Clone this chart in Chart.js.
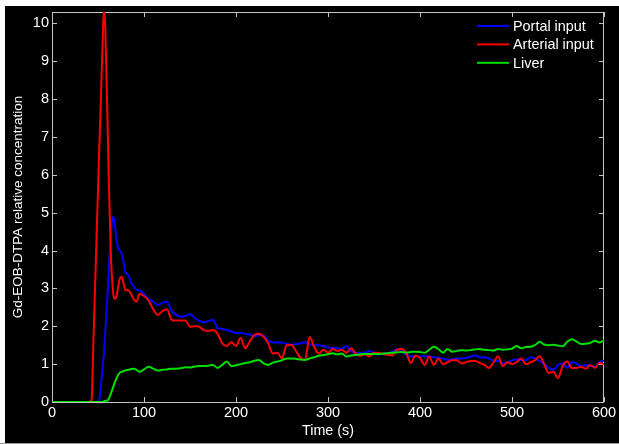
<!DOCTYPE html>
<html><head><meta charset="utf-8">
<script src="https://cdn.jsdelivr.net/npm/chart.js@4"></script>
<style>
html,body{margin:0;padding:0;background:#fff;width:619px;height:444px;overflow:hidden}
#wrap{position:absolute;left:5px;top:6px;width:614px;height:437px;background:#000}
#bline{position:absolute;left:0;top:443px;width:619px;height:1px;background:#999}
canvas{display:block}
</style></head>
<body>
<div id="wrap"><canvas id="c" width="614" height="437"></canvas></div>
<div id="bline"></div>
<script>
// Time (s)
const times = [0,10,20,30,40,43,45,47,49,51,53,55,56.5,58,60,62,64,66,68,70,72,74,76,78,80,83,86,89,92,95,
 100,105,110,115,120,125,130,135,140,145,
 150,155,160,165,170,175,180,185,190,195,
 200,205,210,215,220,225,230,235,240,245,
 250,255,260,265,270,275,280,285,290,295,
 300,305,310,315,320,325,330,335,340,345,
 350,355,360,365,370,375,380,385,390,395,
 400,405,410,415,420,425,430,435,440,445,
 450,455,460,465,470,475,480,485,490,495,
 500,505,510,515,520,525,530,535,540,545,
 550,555,560,565,570,575,580,585,590,595,
 600];

const portalInput = [0,0,0,0,0,0,0,0,0,0,0.4,0.9,1.3,1.9,2.7,3.6,4.4,4.9,4.75,4.3,4.05,4.0,3.9,3.65,3.42,3.35,3.15,3.05,2.96,2.95,
 2.85,2.72,2.65,2.56,2.62,2.65,2.40,2.30,2.25,2.27,
 2.32,2.22,2.14,2.10,2.14,2.17,1.95,1.93,1.90,1.87,
 1.82,1.82,1.80,1.78,1.73,1.77,1.75,1.62,1.58,1.57,
 1.57,1.53,1.51,1.53,1.55,1.58,1.52,1.50,1.50,1.48,
 1.44,1.43,1.42,1.40,1.48,1.35,1.29,1.30,1.30,1.35,
 1.30,1.25,1.28,1.29,1.33,1.39,1.34,1.25,1.20,1.22,
 1.20,1.21,1.20,1.18,1.17,1.15,1.11,1.13,1.15,1.15,
 1.16,1.20,1.23,1.18,1.18,1.15,1.09,1.08,1.02,1.05,
 1.10,1.13,1.10,1.10,1.18,1.15,1.08,1.00,0.90,0.85,
 0.98,1.02,0.90,1.05,1.02,0.95,0.98,0.96,0.93,1.05,
 1.10];

const arterialInput = [0,0,0,0,0,0.05,1.6,3.2,4.8,6.4,7.9,9.5,10.4,9.8,7.8,5.6,3.9,3.0,2.72,2.78,3.05,3.28,3.3,3.1,2.95,2.95,2.85,2.7,2.65,2.85,
 2.80,2.68,2.45,2.30,2.40,2.45,2.17,2.15,2.15,2.15,
 1.99,2.00,1.99,1.90,1.88,1.90,1.80,1.55,1.48,1.58,
 1.48,1.70,1.42,1.60,1.77,1.80,1.72,1.55,1.28,1.30,
 1.15,1.50,1.51,1.35,1.17,1.11,1.72,1.45,1.28,1.38,
 1.30,1.40,1.35,1.38,1.30,1.42,1.28,1.22,1.27,1.20,
 1.30,1.30,1.27,1.25,1.23,1.38,1.40,1.30,1.03,1.22,
 1.16,0.98,1.20,0.98,1.15,1.00,1.05,1.10,1.10,1.02,
 1.05,1.08,1.08,1.03,0.98,0.90,1.05,1.21,0.95,1.05,
 1.00,1.05,1.15,1.00,1.05,1.10,1.21,1.00,0.76,0.80,
 0.63,0.95,1.07,0.90,0.90,0.93,0.88,0.98,0.90,1.03,
 1.00];

const liver = [0,0,0,0,0,0,0,0,0,0,0,0,0.02,0.03,0.03,0.1,0.22,0.36,0.5,0.62,0.72,0.78,0.8,0.82,0.84,0.85,0.87,0.88,0.85,0.8,
 0.86,0.93,0.88,0.83,0.85,0.86,0.88,0.88,0.89,0.92,
 0.91,0.94,0.95,0.95,0.96,0.98,0.90,0.98,1.07,0.95,
 0.97,1.00,1.03,1.05,1.09,1.11,1.02,0.98,1.04,1.07,
 1.10,1.15,1.15,1.14,1.12,1.11,1.15,1.18,1.22,1.24,
 1.26,1.29,1.26,1.28,1.20,1.23,1.24,1.26,1.27,1.27,
 1.27,1.27,1.28,1.29,1.30,1.31,1.32,1.31,1.32,1.33,
 1.32,1.30,1.38,1.46,1.40,1.30,1.40,1.33,1.35,1.37,
 1.36,1.37,1.39,1.40,1.38,1.37,1.36,1.40,1.38,1.39,
 1.41,1.48,1.42,1.45,1.46,1.50,1.59,1.52,1.50,1.51,
 1.49,1.47,1.59,1.66,1.60,1.53,1.54,1.56,1.62,1.57,
 1.63];

const seriesNames = ['Portal input','Arterial input','Liver'];
const xTitle = 'Time (s)';
const yTitle = 'Gd-EOB-DTPA relative concentration';

const FONT = 'Liberation Sans, Arial, Helvetica, sans-serif';
const AXIS = '#c4c4c4';

function pts(vals){ return vals.map((v,i)=>({x:times[i], y:v})); }

const boxPlugin = {
  id:'box',
  beforeDatasetsDraw(chart){
    const {ctx, chartArea:a, scales} = chart;
    ctx.save();
    ctx.strokeStyle = AXIS; ctx.lineWidth = 1;
    ctx.strokeRect(a.left+0.5, a.top+0.5, a.right-a.left-1, a.bottom-a.top);
    const L = 5;
    ctx.beginPath();
    scales.x.ticks.forEach(t=>{
      const px = Math.round(scales.x.getPixelForValue(t.value))+0.5;
      ctx.moveTo(px, a.bottom); ctx.lineTo(px, a.bottom-L);
      ctx.moveTo(px, a.top); ctx.lineTo(px, a.top+L);
    });
    scales.y.ticks.forEach(t=>{
      const py = Math.round(scales.y.getPixelForValue(t.value))+0.5;
      ctx.moveTo(a.left, py); ctx.lineTo(a.left+L, py);
      ctx.moveTo(a.right, py); ctx.lineTo(a.right-L, py);
    });
    ctx.stroke();
    ctx.restore();
  }
};

const legendPlugin = {
  id:'mlegend',
  afterDatasetsDraw(chart){
    const {ctx, chartArea:a} = chart;
    ctx.save();
    ctx.font = '14.4px ' + FONT;
    ctx.textBaseline = 'middle';
    ctx.textAlign = 'left';
    chart.data.datasets.forEach((ds,i)=>{
      const y = a.top + 14 + i*18.4;
      const x0 = a.right - 127;
      ctx.strokeStyle = ds.borderColor; ctx.lineWidth = 2;
      ctx.beginPath(); ctx.moveTo(x0, y); ctx.lineTo(x0+32, y); ctx.stroke();
      ctx.fillStyle = '#fff';
      ctx.fillText(ds.label, x0+36, y+1);
    });
    ctx.restore();
  }
};

new Chart(document.getElementById('c'), {
  type:'line',
  data:{
    datasets:[
      {label:seriesNames[0], data:pts(portalInput), borderColor:'#0000ff', order:3},
      {label:seriesNames[1], data:pts(arterialInput), borderColor:'#ff0000', order:2},
      {label:seriesNames[2], data:pts(liver), borderColor:'#00e000', order:1}
    ]
  },
  options:{
    responsive:false, animation:false, devicePixelRatio:1,
    layout:{padding:{left:0, top:6, right:15, bottom:0}},
    elements:{
      line:{borderWidth:2, cubicInterpolationMode:'monotone', fill:false},
      point:{radius:0, hoverRadius:0}
    },
    plugins:{legend:{display:false}, tooltip:{enabled:false}},
    scales:{
      x:{
        type:'linear', min:0, max:600,
        grid:{display:false, drawTicks:false, tickLength:0}, border:{display:false},
        ticks:{stepSize:100, color:'#fff', padding:2, maxRotation:0, font:{family:FONT, size:14.5}},
        title:{display:true, text:xTitle, color:'#fff', font:{family:FONT, size:14.3}, padding:{top:0, bottom:3}},
        afterFit(s){ s.height = 41; s.paddingLeft = 0; s.paddingRight = 0; }
      },
      y:{
        type:'linear', min:0, max:10.3,
        grid:{display:false, drawTicks:false, tickLength:0}, border:{display:false},
        ticks:{stepSize:1, includeBounds:false, color:'#fff', padding:3, font:{family:FONT, size:14.5}},
        title:{display:true, text:yTitle, color:'#fff', font:{family:FONT, size:13.5}, padding:{top:5, bottom:0}},
        afterFit(s){ s.width = 47; s.paddingTop = 0; s.paddingBottom = 0; }
      }
    }
  },
  plugins:[boxPlugin, legendPlugin]
});
</script>
</body></html>
